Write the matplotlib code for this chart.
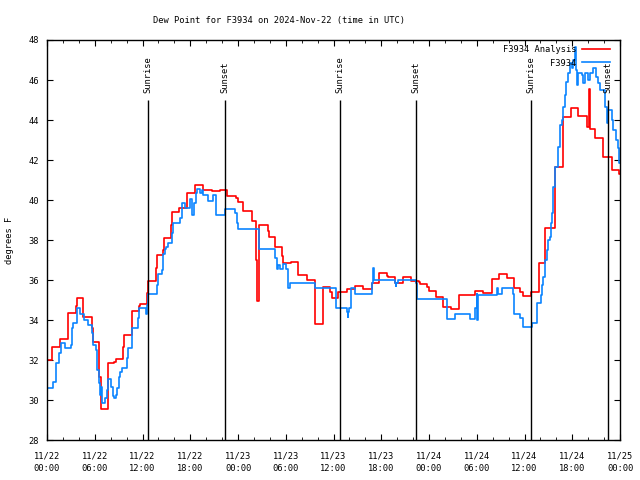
import matplotlib
matplotlib.use('Agg')
import matplotlib.pyplot as plt
from matplotlib.ticker import MultipleLocator

plt.rcParams['font.family'] = 'DejaVu Sans Mono'
plt.rcParams['font.size'] = 6

TITLE = 'Dew Point for F3934 on 2024-Nov-22 (time in UTC)'

# hours since 2024-11-22 00:00 UTC, values in degrees F (step data)
analysis_hours = [0, 0.59, 1.63, 2.60, 3.60, 3.73, 4.56, 5.61, 5.74, 6.57, 6.74, 7.71, 8.42, 8.67,
                  9.59, 9.71, 10.64, 11.6, 11.7, 12.6, 12.73, 13.65, 13.78, 14.61, 14.74, 15.54,
                  15.66, 16.62, 17.63, 18.59, 19.64, 20.69, 21.73, 22.57, 23.74, 24.04, 24.66,
                  25.71, 26.26, 26.36, 26.67, 27.73, 27.89, 28.64, 29.56, 29.69, 30.61, 31.57,
                  32.62, 33.67, 34.72, 35.6, 35.8, 36.6, 37.73, 38.69, 39.74, 40.79, 41.75, 42.67,
                  42.85, 43.72, 44.76, 45.69, 46.73, 46.85, 47.78, 47.98, 48.83, 49.71, 50.71,
                  51.76, 53.77, 54.73, 55.86, 55.95, 56.8, 57.75, 58.71, 59.42, 59.84, 60.8,
                  61.85, 62.56, 63.82, 64.78, 65.79, 66.7, 67.8, 68.1, 68.22, 68.9, 69.89, 70.94,
                  71.9, 72.0]
analysis_values = [32.0, 32.67, 33.03, 34.33, 34.7, 35.08, 34.17, 33.58, 32.92, 31.17, 29.53, 31.83,
                   31.9, 32.05, 32.67, 33.25, 34.45, 34.7, 34.8, 35.37, 35.95, 36.58, 37.25, 37.5,
                   38.08, 38.75, 39.38, 39.58, 40.33, 40.75, 40.5, 40.45, 40.5, 40.2, 40.08, 39.9,
                   39.45, 38.95, 37.0, 34.95, 38.75, 38.47, 38.13, 37.63, 37.2, 36.83, 36.92, 36.25,
                   36.0, 33.8, 35.63, 35.38, 35.12, 35.38, 35.53, 35.7, 35.53, 35.83, 36.33, 36.22,
                   36.13, 35.83, 36.13, 35.97, 35.92, 35.8, 35.63, 35.47, 35.13, 34.63, 34.53,
                   35.25, 35.47, 35.33, 35.83, 36.03, 36.28, 36.08, 35.58, 35.38, 35.22, 35.42,
                   36.83, 38.58, 41.67, 44.13, 44.62, 44.2, 43.65, 45.53, 43.53, 43.08, 42.17,
                   41.5, 41.28, 41.28]

obs_hours = [0, 0.71, 1.13, 1.55, 1.72, 2.26, 3.02, 3.14, 3.22, 3.73, 4.19, 4.69, 5.19, 5.61, 5.82,
             6.16, 6.32, 6.53, 6.66, 6.74, 6.95, 7.33, 7.5, 7.62, 8.04, 8.25, 8.42, 8.63, 8.84, 9.0,
             9.17, 9.38, 10.01, 10.13, 10.64, 11.39, 11.52, 12.44, 12.61, 12.73, 13.86, 13.99,
             14.41, 14.53, 14.62, 14.83, 14.95, 15.24, 15.66, 15.79, 16.71, 16.92, 17.34, 17.96,
             18.17, 18.47, 18.68, 18.89, 19.22, 19.43, 19.64, 20.27, 20.9, 21.23, 22.36, 23.62,
             23.83, 24.04, 26.68, 28.64, 28.85, 29.06, 29.27, 29.69, 29.98, 30.32, 30.53, 33.67,
             36.3, 37.65, 37.8, 37.88, 37.98, 38.15, 38.69, 40.87, 41.0, 41.05, 42.46, 43.72,
             43.8, 43.9, 44.14, 46.36, 46.44, 50.29, 51.26, 53.14, 53.77, 53.98, 54.05, 54.19,
             56.49, 56.57, 56.65, 57.12, 58.5, 58.71, 59.42, 59.75, 60.89, 61.6, 62.06, 62.14,
             62.35, 62.56, 62.85, 62.98, 63.19, 63.31, 63.48, 63.61, 63.82, 64.24, 64.45, 64.66,
             64.78, 65.08, 65.2, 65.5, 65.71, 65.91, 66.12, 66.33, 66.46, 66.63, 66.75, 67.17,
             67.38, 67.59, 68.01, 68.22, 68.63, 68.97, 69.26, 69.47, 70.1, 70.31, 70.52, 70.94,
             71.15, 71.48, 71.69, 71.9, 72.0]
obs_values = [30.58, 30.88, 31.87, 32.37, 32.83, 32.58, 32.75, 33.58, 33.83, 34.58, 34.3, 34.0,
              33.75, 33.33, 32.75, 32.5, 31.5, 30.83, 30.25, 30.67, 29.83, 30.08, 30.5, 31.03,
              30.67, 30.2, 30.08, 30.25, 30.58, 31.13, 31.42, 31.58, 32.08, 32.58, 33.58, 34.08,
              34.62, 34.3, 34.75, 35.28, 35.75, 36.3, 36.5, 36.8, 37.3, 37.55, 37.67, 37.87,
              38.37, 38.87, 39.12, 39.83, 39.58, 40.03, 39.25, 39.83, 40.33, 40.53, 40.33, 40.5,
              40.25, 39.95, 40.25, 39.25, 39.53, 39.33, 38.83, 38.53, 37.53, 37.08, 36.53, 36.75,
              36.53, 36.78, 36.53, 35.58, 35.83, 35.58, 34.58, 34.42, 34.17, 34.42, 34.58, 35.58,
              35.3, 35.83, 36.6, 36.0, 36.0, 35.83, 35.7, 35.83, 36.0, 35.83, 35.03, 34.03, 34.3,
              34.03, 34.58, 35.3, 34.0, 35.25, 35.3, 35.58, 35.3, 35.58, 35.3, 34.28, 34.1, 33.63,
              33.83, 34.83, 35.25, 35.75, 36.17, 37.0, 37.5, 38.0, 38.17, 38.83, 39.33, 40.67,
              41.67, 42.67, 43.75, 44.0, 44.67, 45.25, 45.92, 46.33, 46.83, 46.58, 47.0, 47.67,
              46.5, 45.75, 46.33, 46.25, 45.83, 46.33, 46.0, 46.33, 46.58, 46.17, 45.83, 45.5,
              44.67, 43.83, 44.5, 44.0, 43.5, 43.0, 42.58, 41.83, 41.83]

sunrise_hours = [12.73, 36.85, 60.8]
sunset_hours = [22.4, 46.4, 70.45]

tick_hours = list(range(0, 73, 6))
tick_labels = ['11/22\n00:00', '11/22\n06:00', '11/22\n12:00', '11/22\n18:00',
               '11/23\n00:00', '11/23\n06:00', '11/23\n12:00', '11/23\n18:00',
               '11/24\n00:00', '11/24\n06:00', '11/24\n12:00', '11/24\n18:00',
               '11/25\n00:00']

fig = plt.figure(figsize=(6.4, 4.8), dpi=100)
ax = fig.add_axes([47 / 640, 40 / 480, 573 / 640, 400 / 480])

ax.plot(analysis_hours, analysis_values, drawstyle='steps-post', color='#ff0000',
        lw=1.2, label='F3934 Analysis')
ax.plot(obs_hours, obs_values, drawstyle='steps-post', color='#0a84ff',
        lw=1.2, label='F3934')

for h in sunrise_hours:
    ax.vlines(h, 28, 45, color='black', lw=1)
    ax.text(h, 45.35, 'Sunrise', rotation=90, ha='center', va='bottom', fontsize=6.3)
for h in sunset_hours:
    ax.vlines(h, 28, 45, color='black', lw=1)
    ax.text(h, 45.35, 'Sunset', rotation=90, ha='center', va='bottom', fontsize=6.3)

ax.set_xlim(0, 72)
ax.set_ylim(28, 48)
ax.set_xticks(tick_hours)
ax.set_xticklabels(tick_labels, linespacing=1.5)
ax.xaxis.set_minor_locator(MultipleLocator(2))
ax.set_yticks(range(28, 49, 2))
ax.tick_params(which='both', direction='in', top=True, right=True, labelsize=6.3)
ax.tick_params(which='major', length=4)
ax.tick_params(which='minor', length=2.5)
ax.tick_params(axis='x', pad=8)
ax.tick_params(axis='y', pad=6)
for s in ax.spines.values():
    s.set_linewidth(1)

fig.text(153 / 640, 1 - 20 / 480, TITLE, ha='left', va='center', fontsize=6.3)
fig.text(10 / 640, 1 - 240 / 480, 'degrees F', rotation=90, ha='center', va='center',
         fontsize=6.3)

ax.legend(loc='upper right', bbox_to_anchor=(1 - 8 / 573, 1 - 3 / 400), frameon=False,
          markerfirst=False, fontsize=6.3, handlelength=3.2, handletextpad=0.7,
          labelspacing=0.55, borderaxespad=0.0, borderpad=0.2)

fig.savefig('out.png', dpi=100)
